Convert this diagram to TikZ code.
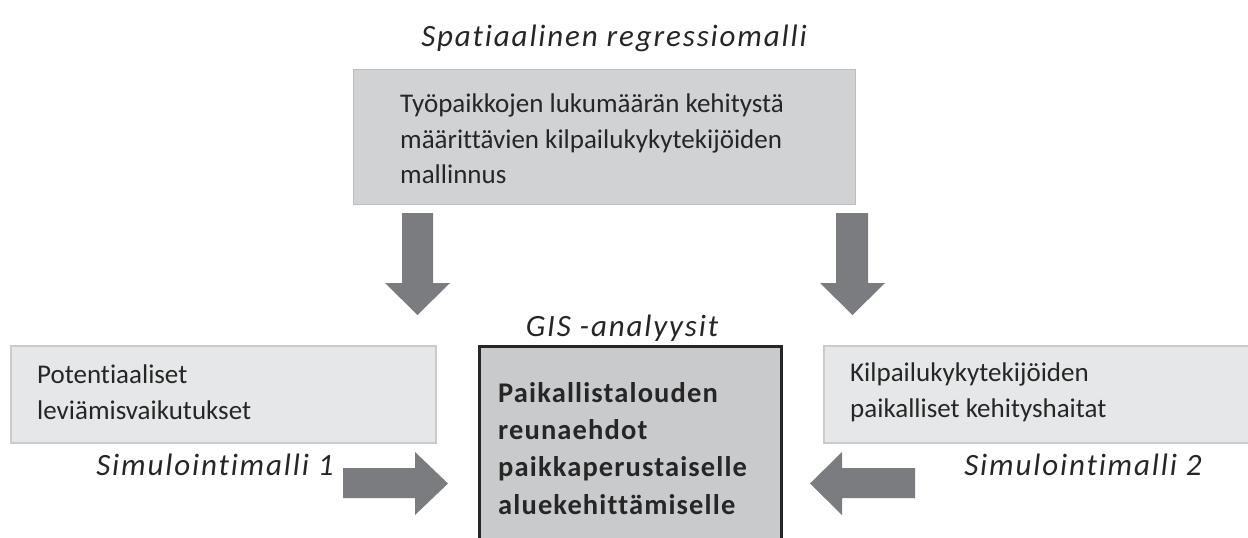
\documentclass[tikz,border=0pt]{standalone}
\usepackage{fontspec}
\setmainfont{Carlito}[Ligatures=NoCommon]
\definecolor{topfill}{HTML}{D1D2D4}
\definecolor{sidefill}{HTML}{E6E7E8}
\definecolor{sideline}{HTML}{CACBCC}
\definecolor{centerfill}{HTML}{C9CACC}
\definecolor{centerline}{HTML}{262626}
\definecolor{arrowgray}{HTML}{7B7C7F}
\definecolor{txt}{HTML}{262626}
\tikzset{
  topbox/.style={rectangle, fill=topfill, draw=topfill!90!black, line width=0.6pt, inner sep=0pt},
  sidebox/.style={rectangle, fill=sidefill, draw=sideline, line width=1.5pt, inner sep=0pt},
  centerbox/.style={rectangle, fill=centerfill, draw=centerline, line width=2.8pt, inner sep=0pt},
  boxtext/.style={text=txt, align=left, inner sep=0pt, font=\fontsize{27}{35.5}\selectfont},
  boldtext/.style={text=txt, align=left, inner sep=0pt, font=\fontsize{28.5}{37.3}\selectfont\bfseries\addfontfeature{LetterSpace=4}},
  label/.style={text=txt, inner sep=0pt, font=\fontsize{31}{37}\selectfont\itshape\addfontfeature{LetterSpace=6}},
  blockarrow/.style={fill=arrowgray, draw=none}
}
\begin{document}
\begin{tikzpicture}[x=1pt,y=-1pt]
\useasboundingbox (0,0) rectangle (1248,538);
\fill[white] (0,0) rectangle (1248,538);
% title
\node[label] (title) at (614,38) {Spatiaalinen regressiomalli};
% top box
\node[topbox, minimum width=502pt, minimum height=135pt, anchor=north west] (top) at (353,69) {};
\node[boxtext, anchor=west] (toptext) at ([xshift=47pt, yshift=-2pt]top.west) {Työpaikkojen lukumäärän kehitystä\\määrittävien kilpailukykytekijöiden\\mallinnus};
% left box
\node[sidebox, minimum width=425pt, minimum height=97pt, anchor=north west] (left) at (10,345) {};
\node[boxtext, anchor=west] (lefttext) at ([xshift=27pt, yshift=2pt]left.west) {Potentiaaliset\\leviämisvaikutukset};
% right box
\node[sidebox, minimum width=440pt, minimum height=97pt, anchor=north west] (right) at (823,345) {};
\node[boxtext, anchor=west] (righttext) at ([xshift=27pt, yshift=2pt]right.west) {Kilpailukykytekijöiden\\paikalliset kehityshaitat};
% center box
\node[centerbox, minimum width=302pt, minimum height=220pt, anchor=north west] (center) at (478,345) {};
\node[boldtext, anchor=north west] (centertext) at (498,382) {Paikallistalouden\\reunaehdot\\paikkaperustaiselle\\aluekehittämiselle};
% labels
\node[label] (gis) at (622,328) {GIS -analyysit};
\node[label] (sim1) at (215,465) {Simulointimalli 1};
\node[label] (sim2) at (1083,465) {Simulointimalli 2};
% block arrows
\fill[blockarrow] (402,213) -- (433,213) -- (433,283) -- (450,283) -- (417.5,315) -- (385,283) -- (402,283) -- cycle;
\fill[blockarrow] (836,213) -- (868,213) -- (868,283) -- (885,283) -- (852.5,315) -- (820,283) -- (836,283) -- cycle;
\fill[blockarrow] (343,468) -- (415,468) -- (415,452) -- (448,483.5) -- (415,515) -- (415,498) -- (343,498) -- cycle;
\fill[blockarrow] (915,468) -- (842,468) -- (842,452) -- (810,483.5) -- (842,515) -- (842,498) -- (915,498) -- cycle;
\end{tikzpicture}
\end{document}
